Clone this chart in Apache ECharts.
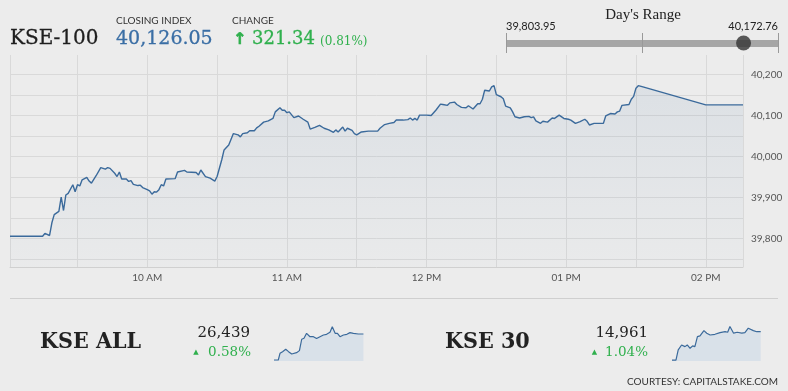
<!DOCTYPE html>
<html>
<head>
<meta charset="utf-8">
<script src="https://cdn.jsdelivr.net/npm/echarts@6/dist/echarts.min.js"></script>
<style>
html,body{margin:0;padding:0;background:#ececec;}
#chart{width:788px;height:391px;}
</style>
</head>
<body>
<div id="chart"></div>
<script>
// ---- Header values ----
const indexName = 'KSE-100';
const closingIndex = 40126.05;
const changePts = 321.34;
const changePct = 0.81;
const dayLow = 39803.95;
const dayHigh = 40172.76;

// ---- Main KSE-100 intraday series: [minutes since midnight, index] ----
const kse100Points = [
 [541,39805],[555,39805],[556,39812],[558,39807],[559,39838],[560,39858],[562,39866],[563,39901],[564,39868],[565,39906],
 [566,39910],[568,39931],[569,39914],[570,39931],[571,39928],[572,39943],[574,39949],[575,39940],[576,39935],[578,39953],
 [580,39973],[582,39969],[583,39973],[584,39971],[586,39959],[587,39951],[588,39962],[589,39945],[591,39945],[592,39939],
 [593,39941],[594,39932],[596,39929],[597,39930],[598,39924],[600,39919],[601,39916],[602,39908],[603,39914],[604,39913],
 [605,39919],[606,39931],[607,39928],[608,39945],[612,39946],[613,39962],[616,39966],[617,39962],[621,39961],[622,39955],
 [623,39967],[625,39951],[627,39947],[629,39940],[630,39951],[632,39992],[633,40016],[635,40028],[637,40056],[639,40053],
 [640,40048],[641,40056],[643,40058],[644,40063],[646,40063],[647,40070],[648,40074],[650,40084],[652,40087],[654,40093],
 [655,40109],[657,40119],[658,40113],[659,40113],[660,40107],[661,40109],[663,40095],[665,40099],[667,40091],[669,40084],
 [670,40067],[672,40071],[674,40076],[676,40069],[678,40065],[680,40059],[681,40065],[682,40060],[684,40072],[685,40062],
 [686,40069],[688,40064],[689,40056],[690,40053],[692,40060],[695,40062],[699,40062],[700,40069],[702,40078],[704,40081],
 [706,40083],[707,40089],[710,40089],[712,40090],[713,40094],[714,40089],[715,40093],[716,40089],[717,40101],[720,40101],
 [722,40100],[724,40113],[726,40128],[727,40127],[729,40125],[730,40131],[732,40133],[733,40127],[735,40120],[737,40119],
 [738,40124],[740,40116],[742,40129],[743,40129],[744,40140],[745,40162],[747,40160],[748,40170],[749,40173],[750,40151],
 [752,40146],[753,40141],[754,40123],[756,40119],[757,40109],[758,40097],[760,40094],[762,40097],[764,40098],[765,40095],
 [766,40097],[767,40087],[769,40081],[770,40086],[772,40084],[774,40094],[775,40093],[777,40101],[779,40093],[781,40091],
 [782,40089],[784,40081],[786,40085],[788,40091],[789,40086],[790,40077],[792,40081],[794,40081],[796,40081],[797,40099],
 [799,40105],[801,40104],[802,40109],[803,40111],[804,40125],[807,40127],[808,40140],[809,40147],[810,40167],[811,40173],
 [813,40170],[840,40126.05],[856,40126.05]
];

// ---- Axis ticks ----
const yGridValues = [39750,39800,39850,39900,39950,40000,40050,40100,40150,40200];
const yLabelValues = [39800,39900,40000,40100,40200];
const xGridValues = [541,570,600,630,660,690,720,750,780,810,840,856];
const xLabelValues = [600,660,720,780,840];

// ---- KSE ALL sparkline ----
const kseAllName = 'KSE ALL';
const kseAllClose = '26,439';
const kseAllPct = '0.58%';
const kseAllPoints = [
 [541,26286],[556,26286],[562,26325],[571,26335],[582,26349],[592,26335],[603,26321],[609,26331],[620,26329],[630,26341],
 [638,26408],[646,26414],[655,26443],[667,26423],[679,26423],[690,26412],[702,26423],[714,26433],[725,26437],[737,26449],
 [745,26482],[755,26443],[763,26443],[772,26423],[784,26433],[796,26437],[807,26447],[819,26443],[836,26439],[854,26439]
];

// ---- KSE 30 sparkline ----
const kse30Name = 'KSE 30';
const kse30Close = '14,961';
const kse30Pct = '1.04%';
const kse30Points = [
 [541,14807],[555,14807],[563,14862],[575,14889],[587,14880],[595,14889],[605,14871],[614,14884],[622,14880],[631,14934],
 [640,14938],[654,14967],[664,14953],[676,14943],[693,14947],[711,14956],[729,14961],[738,14958],[746,14989],[759,14953],
 [772,14958],[788,14953],[799,14956],[811,14980],[829,14967],[841,14961],[855,14961]
];

const blue = '#3b6a9b';
const green = '#2fb04d';
const serif = '"DejaVu Serif", serif';
const condSerif = '"DejaVu Serif Condensed", "DejaVu Serif", serif';
const sans = 'Lato, "Open Sans", sans-serif';

function fmtNum(v){ return v.toLocaleString('en-US'); }
function fmtTime(v){
  const h = Math.round(v/60);
  if (h < 12) return h + ' AM';
  if (h === 12) return '12 PM';
  const hh = h - 12;
  return (hh < 10 ? '0' + hh : '' + hh) + ' PM';
}

const chart = echarts.init(document.getElementById('chart'), null, {renderer:'canvas'});

const option = {
  backgroundColor: '#ececec',
  animation: false,
  grid: [
    {left: 10, right: 45, top: 55, bottom: 124, containLabel: false},
    {left: 274, width: 90, top: 326, height: 35},
    {left: 672, width: 89, top: 326, height: 35},
    {left: 506, width: 272, top: 33, height: 20}
  ],
  xAxis: [
    {
      gridIndex: 0, type: 'value', min: 541, max: 856,
      axisLine: {show: true, lineStyle: {color: '#d0d0d0'}},
      axisTick: {show: false, customValues: xGridValues},
      splitLine: {show: true, lineStyle: {color: '#d9d9d9', width: 1}},
      axisLabel: {customValues: xLabelValues, formatter: fmtTime, color: '#555', fontSize: 10, fontFamily: sans, margin: 6}
    },
    {gridIndex: 1, type: 'value', min: 541, max: 856, show: false},
    {gridIndex: 2, type: 'value', min: 541, max: 856, show: false},
    {
      gridIndex: 3, type: 'value', min: dayLow, max: dayHigh,
      axisLine: {show: true, onZero: true, lineStyle: {color: '#a6a6a6', width: 7, cap: 'butt'}},
      axisTick: {show: false}, axisLabel: {show: false}, splitLine: {show: false}
    }
  ],
  yAxis: [
    {
      gridIndex: 0, type: 'value', position: 'right', min: 39730, max: 40248,
      axisLine: {show: false},
      axisTick: {show: false, customValues: yGridValues},
      splitLine: {show: true, lineStyle: {color: '#d9d9d9', width: 1}},
      axisLabel: {customValues: yLabelValues, formatter: fmtNum, color: '#555', fontSize: 10, fontFamily: sans, margin: 8}
    },
    {gridIndex: 1, type: 'value', min: 26280, max: 26486, show: false},
    {gridIndex: 2, type: 'value', min: 14802, max: 14992, show: false},
    {gridIndex: 3, type: 'value', min: -1, max: 1, show: false}
  ],
  series: [
    {
      type: 'line', xAxisIndex: 0, yAxisIndex: 0, data: kse100Points,
      showSymbol: false, symbol: 'none',
      lineStyle: {color: blue, width: 1.4},
      areaStyle: {
        origin: 'start',
        color: new echarts.graphic.LinearGradient(0, 0, 0, 1, [
          {offset: 0, color: 'rgba(59,106,155,0.13)'},
          {offset: 1, color: 'rgba(59,106,155,0.02)'}
        ])
      }
    },
    {
      type: 'line', xAxisIndex: 1, yAxisIndex: 1, data: kseAllPoints,
      showSymbol: false, symbol: 'none',
      lineStyle: {color: blue, width: 1.2},
      areaStyle: {origin: 'start', color: '#d9e1e9', opacity: 1}
    },
    {
      type: 'line', xAxisIndex: 2, yAxisIndex: 2, data: kse30Points,
      showSymbol: false, symbol: 'none',
      lineStyle: {color: blue, width: 1.2},
      areaStyle: {origin: 'start', color: '#d9e1e9', opacity: 1}
    },
    {
      type: 'scatter', xAxisIndex: 3, yAxisIndex: 3, data: [[closingIndex, 0]],
      symbolSize: 15, itemStyle: {color: '#333333'}, z: 5,
      markLine: {
        silent: true, symbol: 'none', label: {show: false},
        lineStyle: {color: '#999999', width: 1, type: 'solid'},
        data: [{xAxis: dayLow}, {xAxis: (dayLow + dayHigh) / 2}, {xAxis: dayHigh}]
      }
    }
  ],
  graphic: [
    {type: 'text', style: {text: indexName, x: 10, y: 39, font: '20px ' + serif, fill: '#1e1e1e', stroke: '#1e1e1e', lineWidth: 0.3, align: 'left', verticalAlign: 'middle'}},
    {type: 'text', style: {text: 'CLOSING INDEX', x: 116, y: 20.5, font: '10px ' + sans, fill: '#333', align: 'left', verticalAlign: 'middle'}},
    {type: 'text', style: {text: fmtNum(closingIndex), x: 116, y: 39, font: '19px ' + serif, fill: '#3a6ea5', stroke: '#3a6ea5', lineWidth: 0.3, align: 'left', verticalAlign: 'middle'}},
    {type: 'text', style: {text: 'CHANGE', x: 232, y: 20.5, font: '10px ' + sans, fill: '#333', align: 'left', verticalAlign: 'middle'}},
    {type: 'text', style: {text: '↑', x: 233, y: 40, font: 'bold 16px "DejaVu Sans"', fill: green, stroke: green, lineWidth: 0.6, align: 'left', verticalAlign: 'middle'}},
    {type: 'text', style: {text: changePts.toFixed(2), x: 252, y: 39, font: '18px ' + serif, fill: green, stroke: green, lineWidth: 0.3, align: 'left', verticalAlign: 'middle'}},
    {type: 'text', style: {text: '(' + changePct.toFixed(2) + '%)', x: 320, y: 42, font: '12px ' + serif, fill: green, align: 'left', verticalAlign: 'middle'}},
    {type: 'text', style: {text: "Day's Range", x: 643, y: 15, font: '15px "Liberation Serif", serif', fill: '#222', align: 'center', verticalAlign: 'middle'}},
    {type: 'text', style: {text: fmtNum(dayLow), x: 506, y: 26.5, font: '11px ' + sans, fill: '#222', align: 'left', verticalAlign: 'middle'}},
    {type: 'text', style: {text: fmtNum(dayHigh), x: 778, y: 26.5, font: '11px ' + sans, fill: '#222', align: 'right', verticalAlign: 'middle'}},
    {type: 'line', shape: {x1: 10, y1: 298.5, x2: 778, y2: 298.5}, style: {stroke: '#cfcfcf', lineWidth: 1}},
    {type: 'text', style: {text: kseAllName, x: 40, y: 342, font: 'bold 23px ' + condSerif, fill: '#222', align: 'left', verticalAlign: 'middle'}},
    {type: 'text', style: {text: kseAllClose, x: 250, y: 333.5, font: '15px ' + serif, fill: '#222', align: 'right', verticalAlign: 'middle'}},
    {type: 'text', style: {text: '▲', x: 196, y: 352, font: '7px "DejaVu Sans"', fill: green, align: 'center', verticalAlign: 'middle'}},
    {type: 'text', style: {text: kseAllPct, x: 251, y: 352, font: '13.5px ' + serif, fill: green, align: 'right', verticalAlign: 'middle'}},
    {type: 'text', style: {text: kse30Name, x: 445, y: 342, font: 'bold 23px ' + condSerif, fill: '#222', align: 'left', verticalAlign: 'middle'}},
    {type: 'text', style: {text: kse30Close, x: 648, y: 333.5, font: '15px ' + serif, fill: '#222', align: 'right', verticalAlign: 'middle'}},
    {type: 'text', style: {text: '▲', x: 594.5, y: 352, font: '7px "DejaVu Sans"', fill: green, align: 'center', verticalAlign: 'middle'}},
    {type: 'text', style: {text: kse30Pct, x: 648, y: 352, font: '13.5px ' + serif, fill: green, align: 'right', verticalAlign: 'middle'}},
    {type: 'text', style: {text: 'COURTESY: CAPITALSTAKE.COM', x: 778, y: 381.5, font: '10px ' + sans, fill: '#333', align: 'right', verticalAlign: 'middle'}}
  ]
};
chart.setOption(option);
</script>
</body>
</html>
